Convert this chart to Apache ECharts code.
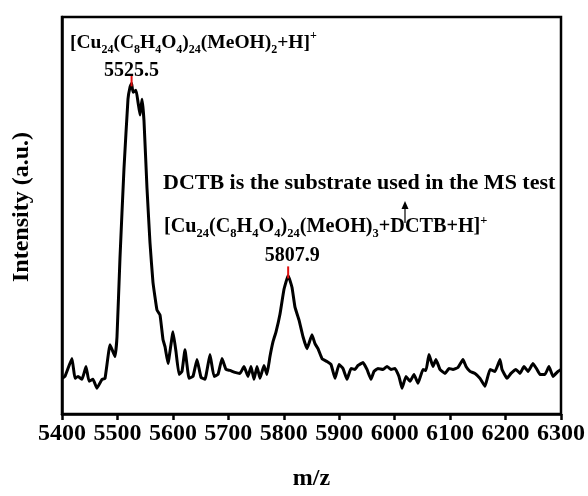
<!DOCTYPE html>
<html>
<head>
<meta charset="utf-8">
<script src="https://cdn.jsdelivr.net/npm/echarts@6/dist/echarts.min.js"></script>
<style>
  html, body { margin: 0; padding: 0; background: #ffffff; }
  #chart { width: 588px; height: 496px; }
</style>
</head>
<body>
<div id="chart"></div>
<script>
// MALDI-TOF spectrum of the Cu24 cluster (DCTB matrix)
const mz = [
  5400.0, 5405.4, 5418.0, 5423.4, 5428.9, 5436.1, 5443.3, 5448.7, 5455.9, 5463.1,
  5472.1, 5477.6, 5486.6, 5495.6, 5499.2, 5504.6, 5511.8, 5519.0, 5522.6, 5525.5,
  5528.1, 5533.5, 5537.1, 5540.7, 5544.3, 5547.9, 5553.3, 5558.7, 5564.1, 5571.3,
  5576.8, 5582.2, 5585.8, 5591.2, 5600.2, 5605.6, 5611.0, 5616.4, 5621.8, 5629.1,
  5636.3, 5643.5, 5650.7, 5657.9, 5666.9, 5674.1, 5681.4, 5688.6, 5695.8, 5703.0,
  5712.0, 5721.0, 5728.3, 5735.5, 5740.9, 5746.3, 5751.7, 5757.1, 5764.3, 5769.7,
  5775.1, 5780.6, 5786.0, 5793.2, 5800.4, 5807.9, 5814.8, 5820.2, 5827.4, 5834.7,
  5841.9, 5850.9, 5856.3, 5861.7, 5868.9, 5877.9, 5885.2, 5892.4, 5899.6, 5906.8,
  5914.0, 5921.2, 5928.5, 5933.9, 5942.9, 5950.1, 5957.3, 5962.7, 5969.9, 5979.0,
  5986.2, 5993.4, 6000.6, 6007.8, 6013.2, 6020.4, 6027.7, 6034.9, 6042.1, 6051.1,
  6056.5, 6061.9, 6069.1, 6074.5, 6081.8, 6090.8, 6098.0, 6105.2, 6114.2, 6123.2,
  6128.7, 6135.9, 6144.9, 6153.9, 6162.9, 6171.9, 6181.0, 6190.0, 6193.6, 6202.6,
  6209.8, 6218.8, 6226.0, 6233.3, 6240.5, 6249.5, 6256.7, 6262.1, 6271.1, 6278.3,
  6285.5, 6294.6, 6300.0
];
const intensity = [
  36, 38, 56, 36, 38, 35, 48, 33, 35, 26,
  35, 36, 70, 58, 78, 158, 248, 318, 330, 334,
  325, 327, 315, 302, 318, 296, 228, 173, 133, 105,
  100, 75, 68, 51, 83, 63, 40, 43, 65, 36,
  38, 55, 37, 35, 60, 38, 40, 56, 45, 44,
  42, 41, 48, 38, 48, 35, 48, 36, 49, 40,
  58, 73, 83, 101, 126, 140, 128, 108, 95, 78,
  66, 80, 71, 66, 56, 53, 50, 36, 50, 46,
  35, 46, 45, 49, 52, 45, 35, 43, 46, 45,
  48, 45, 46, 38, 26, 38, 33, 40, 31, 45,
  44, 60, 48, 55, 45, 41, 46, 45, 47, 55,
  48, 43, 41, 36, 28, 45, 43, 55, 45, 36,
  41, 45, 41, 48, 43, 51, 45, 40, 40, 48,
  38, 43, 45
];

// Labelled peaks
const peakMz = [5525.5, 5807.9];
const peakIntensity = [334, 140];

// Axis range / ticks
const xMin = 5400, xMax = 6300, xStep = 100;
const yMax = 401;

const FONT = '"Liberation Serif", "Times New Roman", serif';

function formulaStyle(big, small) {
  return {
    n: { fontFamily: FONT, fontWeight: 'bold', fontSize: big, lineHeight: 26, verticalAlign: 'middle', fill: '#000' },
    s: { fontFamily: FONT, fontWeight: 'bold', fontSize: small, lineHeight: 26, verticalAlign: 'bottom', fill: '#000' },
    p: { fontFamily: FONT, fontWeight: 'bold', fontSize: small, lineHeight: 26, verticalAlign: 'top', fill: '#000' }
  };
}
const formula1 = '{n|[Cu}{s|24}{n|(C}{s|8}{n|H}{s|4}{n|O}{s|4}{n|)}{s|24}{n|(MeOH)}{s|2}{n|+H]}{p|+}';
const formula2 = '{n|[Cu}{s|24}{n|(C}{s|8}{n|H}{s|4}{n|O}{s|4}{n|)}{s|24}{n|(MeOH)}{s|3}{n|+DCTB+H]}{p|+}';

const peakLabelOffsets = [[0, 8], [4, 1]];

const chart = echarts.init(document.getElementById('chart'), null, { renderer: 'canvas' });

chart.setOption({
  animation: false,
  backgroundColor: '#ffffff',
  grid: {
    left: 62, right: 27, top: 17, bottom: 78,
    show: true, borderColor: '#000', borderWidth: 2.5, backgroundColor: 'transparent'
  },
  xAxis: {
    type: 'value',
    min: xMin, max: xMax, interval: xStep,
    name: 'm/z',
    nameLocation: 'middle',
    nameGap: 53,
    nameTextStyle: { fontFamily: FONT, fontWeight: 'bold', fontSize: 24, color: '#000' },
    axisLine: { show: true, lineStyle: { color: '#000', width: 2.5 } },
    axisTick: { show: true, inside: false, length: 6, lineStyle: { color: '#000', width: 2.5 } },
    axisLabel: {
      margin: 8, fontFamily: FONT, fontWeight: 'bold', fontSize: 24, color: '#000',
      formatter: v => String(v)
    },
    splitLine: { show: false }
  },
  yAxis: {
    type: 'value',
    min: 0, max: yMax,
    axisLine: { show: true, lineStyle: { color: '#000', width: 2.5 } },
    axisTick: { show: false },
    axisLabel: { show: false },
    splitLine: { show: false }
  },
  series: [
    {
      type: 'line',
      data: mz.map((m, i) => [m, intensity[i]]),
      showSymbol: false,
      smooth: 0.1,
      lineStyle: { color: '#000', width: 3, join: 'round' },
      z: 2
    },
    {
      type: 'scatter',
      data: peakMz.map((m, i) => ({
        value: [m, peakIntensity[i]],
        label: { offset: peakLabelOffsets[i] }
      })),
      symbol: 'rect',
      symbolSize: [2, 12],
      symbolOffset: [0, -3],
      itemStyle: { color: '#e01010', opacity: 1 },
      label: {
        show: true,
        position: 'top',
        distance: 2,
        formatter: p => p.value[0].toFixed(1),
        fontFamily: FONT, fontWeight: 'bold', fontSize: 20, color: '#000', opacity: 1
      },
      z: 3
    }
  ],
  graphic: [
    {
      type: 'text', x: 22, y: 207, rotation: Math.PI / 2,
      style: {
        text: 'Intensity (a.u.)', fontFamily: FONT, fontWeight: 'bold', fontSize: 24,
        fill: '#000', textAlign: 'center', textVerticalAlign: 'middle'
      }
    },
    {
      type: 'text', left: 70, top: 30,
      style: { text: formula1, rich: formulaStyle(19.5, 12) }
    },
    {
      type: 'text', left: 163, top: 172,
      style: { text: 'DCTB is the substrate used in the MS test', fontFamily: FONT, fontWeight: 'bold', fontSize: 22, fill: '#000' }
    },
    {
      type: 'text', left: 164, top: 214,
      style: { text: formula2, rich: formulaStyle(20.2, 12.5) }
    },
    {
      type: 'line', shape: { x1: 405, y1: 223, x2: 405, y2: 208 },
      style: { stroke: '#000', lineWidth: 1.2 }
    },
    {
      type: 'polygon', shape: { points: [[405, 201], [401.5, 209], [408.5, 209]] },
      style: { fill: '#000' }
    }
  ]
});
</script>
</body>
</html>
